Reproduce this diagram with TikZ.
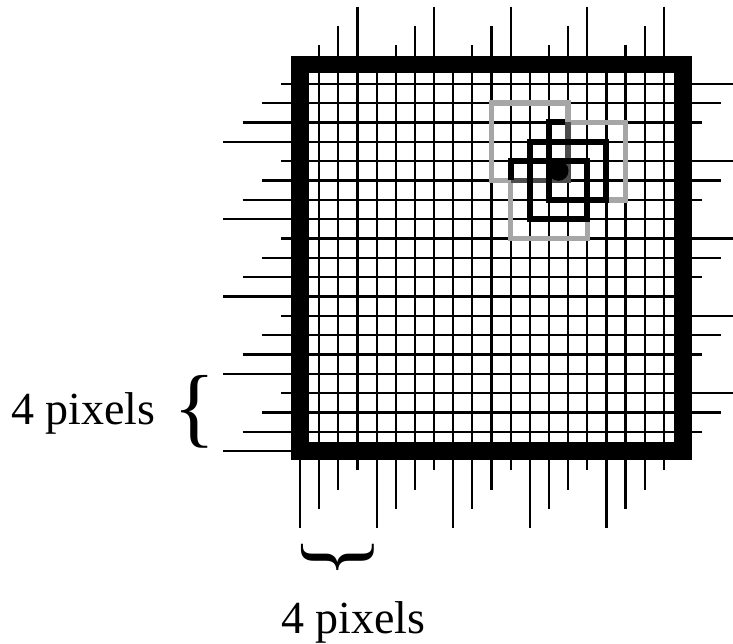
\documentclass[tikz,border=0pt]{standalone}
\usepackage{fontspec}
\setmainfont{Liberation Serif}
\begin{document}
\begin{tikzpicture}[x=1pt,y=-1pt,
  gridline/.style={line width=2.2pt,black},
  frameline/.style={line width=17.5pt,black},
  greysq/.style={line width=5.5pt,black!35},
  darksq/.style={line width=5.5pt,black!70},
  blacksq/.style={line width=6pt,black},
  lbl/.style={inner sep=0pt,font=\fontsize{46}{50}\selectfont},
  bracefont/.style={inner sep=0pt,font=\fontsize{88}{92}\selectfont}]
\useasboundingbox (0,0) rectangle (733,644);
\begin{scope}[shift={(300pt,-64.5pt)}, x=19.15pt, y=-19.33pt]
  % vertical grid lines with ticks
  \foreach \i in {1,...,19}{
    \pgfmathtruncatemacro{\kt}{mod(\i,4)}
    \pgfmathtruncatemacro{\kb}{4-mod(\i,4)}
    \draw[gridline] (\i,-\kt) -- (\i,20+\kb);
  }
  \draw[gridline] (0,20) -- (0,24);
  % horizontal grid lines with ticks
  \foreach \j in {1,...,19}{
    \pgfmathtruncatemacro{\kl}{mod(\j-1,4)+1}
    \pgfmathtruncatemacro{\kr}{mod(4-mod(\j,4),4)}
    \draw[gridline] (-\kl,\j) -- (20+\kr,\j);
  }
  \draw[gridline] (-4,20) -- (0,20);
  % frame
  \draw[frameline] (0,0) rectangle (20,20);
  % grey windows
  \draw[greysq] (10,2) rectangle (14,6);
  \draw[greysq] (13,3) rectangle (17,7);
  \draw[greysq] (11,5) rectangle (15,9);
  \draw[darksq] (14,3) -- (14,6) -- (11,6);
  % black windows
  \draw[blacksq] (13,4) rectangle (16,7);
  \draw[blacksq] (12,5) rectangle (15,8);
  \draw[blacksq] (13.85,3) -- (13,3) -- (13,4);
  \draw[blacksq] (12,5) -- (12,4) -- (13,4);
  \draw[blacksq] (11,6) -- (11,5) -- (12,5);
  \fill[black] (13.5,5.5) circle [radius=10pt];
\end{scope}
% labels and braces
\node[lbl,anchor=base west] (leftlabel) at (11,424) {4 pixels};
\node[bracefont] (leftbrace) at (195,412) {\{};
\node[bracefont,rotate=90] (bottombrace) at (338,557) {\{};
\node[lbl,anchor=base west] (bottomlabel) at (281,633) {4 pixels};
\end{tikzpicture}
\end{document}
